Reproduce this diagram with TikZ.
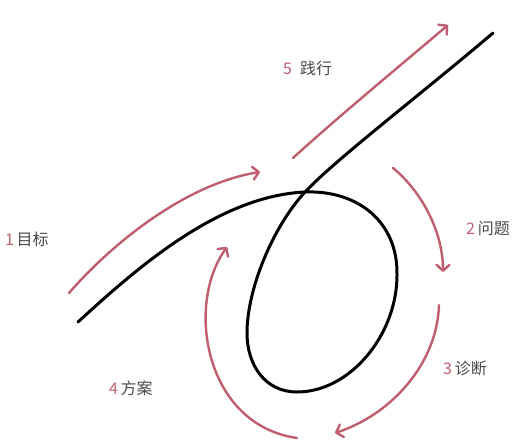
\documentclass[tikz,border=0pt]{standalone}
\usepackage{fontspec}
\setmainfont{Noto Sans CJK SC}
\usetikzlibrary{arrows.meta}
\definecolor{loopred}{rgb}{0.749020, 0.368627, 0.431373}
\definecolor{labelgray}{rgb}{0.290196, 0.290196, 0.290196}
\tikzset{
  stepline/.style={draw=loopred, line width=2.4pt, line cap=round},
  steparrow/.style={stepline, -{Straight Barb[length=6pt,width=13pt,round]}},
  mainline/.style={draw=black, line width=3pt, line cap=round},
  steplabel/.style={anchor=west, inner sep=0pt, text=labelgray, font=\fontsize{16}{17}\selectfont},
}
\newcommand{\stepno}[1]{\textcolor{loopred}{#1}}
\newlength{\du}
\setlength{\du}{1pt}

\begin{document}
\begin{tikzpicture}
\pgftransformxscale{1.000000}
\pgftransformyscale{-1.000000}
\useasboundingbox (0\du,0\du) rectangle (516\du,443\du);
% the path with its loop
\draw[mainline] (78\du,322\du) .. controls (140\du,265\du) and (220\du,196\du) .. (305\du,192\du)
  .. controls (358\du,190\du) and (398\du,222\du) .. (397\du,275\du)
  .. controls (397\du,335\du) and (350\du,392\du) .. (297\du,392\du)
  .. controls (265\du,392\du) and (247\du,365\du) .. (247\du,333\du)
  .. controls (247\du,290\du) and (272\du,228\du) .. (305\du,192\du)
  .. controls (335\du,160\du) and (420\du,95\du) .. (493\du,33\du);
% the five steps
\draw[steparrow] (69\du,293\du) .. controls (117\du,238\du) and (190\du,183\du) .. (260\du,172\du);
\draw[steparrow] (393\du,168\du) .. controls (420\du,190\du) and (443\du,230\du) .. (443\du,272\du);
\draw[steparrow] (439\du,305\du) .. controls (437\du,365\du) and (390\du,415\du) .. (335\du,433\du);
\draw[steparrow] (297\du,438\du) .. controls (205\du,425\du) and (185\du,305\du) .. (227\du,247\du);
\draw[steparrow] (293\du,158\du) .. controls (338\du,117\du) and (395\du,70\du) .. (448\du,25\du);
\node[steplabel] (goal) at (5\du,239\du){\stepno{1}\,目标};
\node[steplabel] (problem) at (466\du,229\du){\stepno{2}\,问题};
\node[steplabel] (diagnosis) at (443\du,368\du){\stepno{3}\,诊断};
\node[steplabel] (plan) at (109\du,388\du){\stepno{4}\,方案};
\node[steplabel] (practice) at (283\du,68\du){\stepno{5}\enspace 践行};
\end{tikzpicture}
\end{document}
